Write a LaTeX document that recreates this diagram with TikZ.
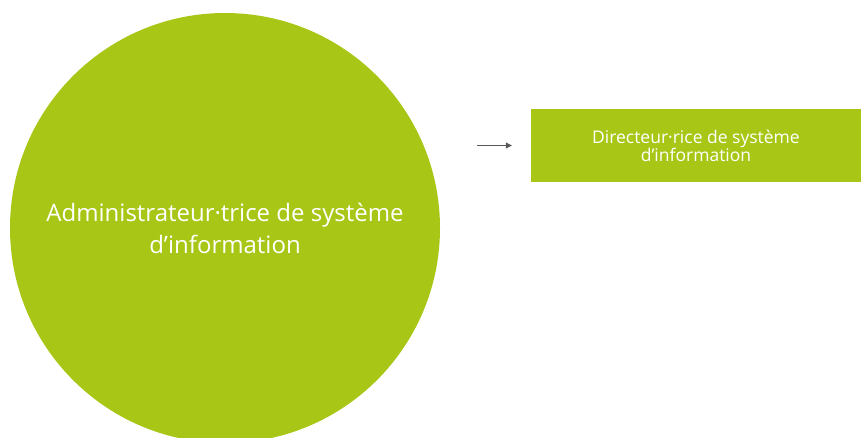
\documentclass[tikz,border=0pt]{standalone}
\usepackage{fontspec}
\setmainfont{Open Sans}
\usetikzlibrary{arrows.meta}
\definecolor{lime}{HTML}{A8C615}
\definecolor{arrowgray}{HTML}{595959}
\tikzset{
  bubble/.style={circle, fill=lime, minimum size=430pt, inner sep=0pt, text=white, align=center, font=\fontsize{24}{32}\selectfont},
  rolebox/.style={rectangle, fill=lime, minimum width=330pt, minimum height=73pt, inner sep=0pt, text=white, align=center, font=\fontsize{17.5}{18}\selectfont},
  link/.style={draw=arrowgray, line width=1pt, -{Triangle[length=6pt,width=6pt]}}
}
\begin{document}
\begin{tikzpicture}[x=1pt,y=-1pt]
\useasboundingbox (0,0) rectangle (861,437);
\node[bubble] (circ) at (225,228) {Administrateur·trice de système\\d’information};
\node[rolebox] (box) at (696,145.5) {Directeur·rice de système\\d’information};
\draw[link] ([xshift=37pt]circ.east |- box.west) -- ([xshift=-19pt]box.west);
\end{tikzpicture}
\end{document}
